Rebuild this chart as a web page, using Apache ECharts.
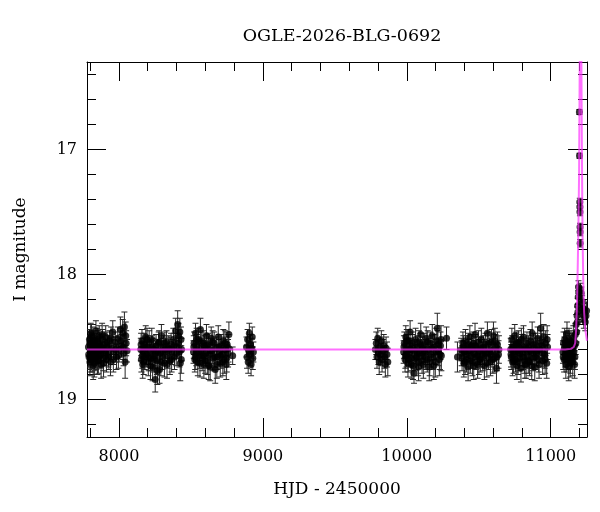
<!doctype html>
<html>
<head>
    <meta charset="utf-8">
    <title>OGLE-2026-BLG-0692</title>
    <script src="https://cdn.jsdelivr.net/npm/echarts@6/dist/echarts.min.js"></script>
    <style>
        html, body { margin: 0; padding: 0; background: #fff; }
        #main { width: 600px; height: 512px; }
    </style>
</head>
<body>
    <div id="main"></div>
<script type="text/javascript">
    // observations per season: [HJD-2450000, I mag, error]
    var season1 = [[7788,18.58,0.09],[7792,18.66,0.10],[7795,18.52,0.08],[7798,18.70,0.11],[7801,18.61,0.09],[7804,18.47,0.08],[7807,18.63,0.10],[7810,18.55,0.09],[7813,18.68,0.10],[7816,18.59,0.09],[7819,18.50,0.08],[7822,18.64,0.10],[7826,18.57,0.09],[7829,18.71,0.11],[7832,18.53,0.08],[7836,18.62,0.10],[7840,18.45,0.08],[7843,18.66,0.10],[7847,18.58,0.09],[7851,18.69,0.11],[7855,18.54,0.09],[7859,18.61,0.09],[7863,18.49,0.08],[7867,18.65,0.10],[7872,18.57,0.09],[7876,18.72,0.11],[7881,18.60,0.09],[7886,18.52,0.08],[7891,18.67,0.10],[7896,18.56,0.09],[7902,18.63,0.10],[7908,18.50,0.09],[7914,18.68,0.10],[7920,18.58,0.09],[7927,18.64,0.10],[7934,18.53,0.08],[7941,18.70,0.11],[7949,18.59,0.09],[7957,18.46,0.09],[7965,18.62,0.10],[7974,18.55,0.09],[7983,18.66,0.10],[7992,18.51,0.09],[8001,18.60,0.10],[8010,18.44,0.10],[8018,18.57,0.09],[8026,18.47,0.11],[8032,18.63,0.10],[8038,18.42,0.12],[8043,18.70,0.13],[8050,18.55,0.10],[8056,18.61,0.09],
                   [7790,18.64,0.10],[7797,18.55,0.09],[7803,18.68,0.10],[7809,18.49,0.09],[7815,18.62,0.10],[7821,18.73,0.11],[7828,18.56,0.09],[7834,18.67,0.10],[7841,18.60,0.09],[7849,18.52,0.09],[7857,18.69,0.10],[7865,18.58,0.09],[7874,18.64,0.10],[7883,18.48,0.09],[7893,18.71,0.11],[7905,18.61,0.09],[7917,18.55,0.09],[7930,18.66,0.10],[7945,18.51,0.09],[7961,18.68,0.10],[7978,18.60,0.10],[7996,18.65,0.10],[8014,18.53,0.10],[8029,18.58,0.10],[8047,18.49,0.11]];
    var season2 = [[8152,18.60,0.09],[8156,18.68,0.10],[8160,18.53,0.09],[8165,18.72,0.11],[8170,18.62,0.09],[8175,18.56,0.09],[8180,18.66,0.10],[8186,18.50,0.09],[8192,18.64,0.10],[8198,18.58,0.09],[8204,18.70,0.11],[8210,18.54,0.09],[8216,18.62,0.10],[8222,18.67,0.10],[8228,18.52,0.09],[8234,18.74,0.11],[8240,18.60,0.09],[8246,18.65,0.10],[8252,18.84,0.10],[8258,18.57,0.09],[8264,18.69,0.11],[8270,18.61,0.09],[8276,18.55,0.09],[8282,18.76,0.11],[8288,18.63,0.10],[8295,18.49,0.09],[8302,18.66,0.10],[8309,18.58,0.09],[8316,18.71,0.11],[8323,18.60,0.09],[8330,18.54,0.09],[8338,18.65,0.10],[8346,18.59,0.10],[8354,18.69,0.11],[8362,18.56,0.09],[8370,18.62,0.10],[8378,18.52,0.09],[8386,18.66,0.10],[8394,18.45,0.10],[8401,18.58,0.09],[8408,18.40,0.11],[8414,18.49,0.10],[8420,18.62,0.12],[8426,18.71,0.14],[8431,18.52,0.10],[8435,18.60,0.09],
                   [8154,18.56,0.09],[8162,18.65,0.10],[8172,18.70,0.10],[8183,18.59,0.09],[8195,18.52,0.09],[8207,18.67,0.10],[8219,18.73,0.11],[8231,18.58,0.09],[8243,18.68,0.10],[8255,18.63,0.10],[8267,18.77,0.11],[8279,18.54,0.09],[8291,18.70,0.11],[8305,18.61,0.10],[8319,18.55,0.09],[8334,18.72,0.11],[8350,18.60,0.10],[8366,18.68,0.10],[8382,18.57,0.10],[8398,18.63,0.10],[8411,18.55,0.11],[8423,18.46,0.11],[8433,18.68,0.11]];
    var season3 = [[8518,18.62,0.09],[8522,18.55,0.09],[8527,18.68,0.10],[8532,18.47,0.08],[8537,18.63,0.10],[8542,18.57,0.09],[8548,18.70,0.11],[8554,18.52,0.09],[8560,18.65,0.10],[8566,18.44,0.09],[8572,18.60,0.09],[8578,18.67,0.10],[8584,18.54,0.09],[8590,18.72,0.11],[8596,18.58,0.09],[8602,18.63,0.10],[8608,18.49,0.09],[8614,18.69,0.11],[8620,18.56,0.09],[8627,18.64,0.10],[8634,18.74,0.11],[8641,18.51,0.09],[8648,18.61,0.10],[8655,18.67,0.10],[8662,18.55,0.09],[8669,18.76,0.11],[8676,18.59,0.09],[8683,18.66,0.10],[8690,18.50,0.09],[8697,18.62,0.10],[8704,18.71,0.11],[8711,18.57,0.09],[8718,18.64,0.10],[8725,18.53,0.09],[8732,18.68,0.11],[8739,18.60,0.10],[8746,18.72,0.12],[8752,18.56,0.10],[8758,18.63,0.11],[8764,18.48,0.10],[8790,18.65,0.07],
                   [8520,18.58,0.09],[8530,18.66,0.10],[8540,18.52,0.09],[8551,18.62,0.10],[8563,18.71,0.11],[8575,18.55,0.09],[8587,18.65,0.10],[8599,18.69,0.10],[8611,18.57,0.09],[8624,18.73,0.11],[8637,18.61,0.10],[8651,18.54,0.09],[8665,18.66,0.10],[8680,18.72,0.11],[8694,18.58,0.10],[8708,18.65,0.10],[8722,18.70,0.11],[8736,18.55,0.10],[8749,18.67,0.11],[8761,18.59,0.11]];
    var season4 = [[8886,18.58,0.08],[8890,18.66,0.09],[8894,18.52,0.08],[8898,18.70,0.09],[8902,18.61,0.08],[8906,18.47,0.08],[8910,18.64,0.09],[8914,18.56,0.08],[8918,18.72,0.09],[8922,18.59,0.08],[8926,18.50,0.08],[8930,18.67,0.09],[8934,18.62,0.08]];
    var season5 = [[9782,18.60,0.08],[9788,18.55,0.09],[9793,18.66,0.09],[9798,18.51,0.08],[9803,18.63,0.09],[9808,18.70,0.10],[9813,18.58,0.08],[9818,18.64,0.09],[9823,18.53,0.08],[9828,18.68,0.10],[9834,18.61,0.09],[9840,18.57,0.09],[9846,18.66,0.09],[9851,18.72,0.10],[9856,18.59,0.09],[9862,18.64,0.10],[9868,18.70,0.11]];
    var season6 = [[9978,18.62,0.09],[9983,18.55,0.09],[9988,18.68,0.10],[9993,18.50,0.09],[9998,18.64,0.10],[10003,18.57,0.09],[10008,18.71,0.11],[10013,18.53,0.09],[10018,18.63,0.10],[10023,18.46,0.09],[10028,18.60,0.09],[10033,18.67,0.10],[10038,18.55,0.09],[10043,18.73,0.11],[10050,18.79,0.08],[10055,18.61,0.09],[10061,18.52,0.09],[10067,18.66,0.10],[10073,18.58,0.09],[10079,18.70,0.11],[10085,18.54,0.09],[10091,18.63,0.10],[10097,18.48,0.09],[10103,18.65,0.10],[10109,18.59,0.09],[10115,18.72,0.11],[10121,18.56,0.09],[10128,18.62,0.10],[10135,18.51,0.09],[10142,18.68,0.10],[10149,18.60,0.09],[10156,18.74,0.11],[10163,18.55,0.09],[10170,18.64,0.10],[10177,18.49,0.09],[10184,18.66,0.10],[10191,18.58,0.10],[10198,18.70,0.12],[10205,18.53,0.10],[10212,18.43,0.12],[10219,18.62,0.11],[10226,18.68,0.13],[10234,18.57,0.11],[10240,18.65,0.12],[10276,18.51,0.09],
                   [9980,18.58,0.09],[9990,18.65,0.10],[10000,18.53,0.09],[10010,18.68,0.10],[10020,18.60,0.09],[10031,18.72,0.11],[10041,18.57,0.09],[10058,18.67,0.10],[10070,18.62,0.09],[10082,18.74,0.11],[10094,18.56,0.09],[10106,18.69,0.10],[10118,18.61,0.09],[10131,18.66,0.10],[10145,18.54,0.09],[10159,18.70,0.11],[10174,18.59,0.10],[10188,18.73,0.11],[10202,18.62,0.10],[10216,18.56,0.11],[10230,18.64,0.12],[10238,18.52,0.11]];
    var season7 = [[10352,18.66,0.12],[10378,18.60,0.09],[10384,18.67,0.10],[10390,18.55,0.09],[10396,18.71,0.11],[10402,18.62,0.09],[10408,18.53,0.09],[10414,18.68,0.10],[10420,18.58,0.09],[10426,18.74,0.11],[10432,18.61,0.09],[10438,18.50,0.09],[10444,18.65,0.10],[10450,18.57,0.09],[10456,18.70,0.11],[10462,18.55,0.09],[10468,18.63,0.10],[10474,18.48,0.09],[10480,18.66,0.10],[10486,18.59,0.09],[10492,18.72,0.11],[10498,18.54,0.09],[10504,18.62,0.10],[10511,18.68,0.10],[10518,18.52,0.09],[10525,18.64,0.10],[10532,18.58,0.09],[10539,18.73,0.11],[10546,18.56,0.09],[10553,18.63,0.10],[10560,18.47,0.09],[10567,18.66,0.10],[10574,18.60,0.09],[10581,18.70,0.11],[10588,18.54,0.10],[10595,18.62,0.10],[10602,18.49,0.11],[10609,18.67,0.11],[10616,18.58,0.10],[10623,18.75,0.12],[10630,18.56,0.10],[10637,18.64,0.11],
                   [10381,18.63,0.10],[10393,18.58,0.09],[10405,18.70,0.10],[10417,18.64,0.10],[10429,18.56,0.09],[10441,18.69,0.10],[10453,18.60,0.09],[10465,18.73,0.11],[10477,18.57,0.09],[10489,18.65,0.10],[10501,18.70,0.10],[10514,18.59,0.09],[10528,18.67,0.10],[10542,18.62,0.10],[10556,18.71,0.11],[10570,18.55,0.09],[10584,18.64,0.10],[10598,18.68,0.11],[10612,18.53,0.10],[10626,18.66,0.11],[10640,18.60,0.11]];
    var season8 = [[10722,18.60,0.09],[10726,18.66,0.10],[10730,18.52,0.09],[10735,18.70,0.11],[10740,18.58,0.09],[10745,18.64,0.10],[10750,18.49,0.09],[10755,18.68,0.10],[10760,18.56,0.09],[10765,18.73,0.11],[10770,18.61,0.09],[10775,18.54,0.09],[10781,18.67,0.10],[10787,18.59,0.09],[10793,18.75,0.11],[10799,18.57,0.09],[10805,18.63,0.10],[10811,18.50,0.09],[10817,18.69,0.10],[10823,18.60,0.09],[10829,18.72,0.11],[10835,18.55,0.09],[10841,18.65,0.10],[10847,18.58,0.09],[10853,18.70,0.11],[10859,18.53,0.09],[10865,18.62,0.10],[10871,18.47,0.09],[10877,18.67,0.10],[10883,18.59,0.09],[10889,18.74,0.11],[10895,18.56,0.09],[10902,18.63,0.10],[10909,18.51,0.09],[10916,18.68,0.10],[10923,18.60,0.10],[10930,18.43,0.12],[10937,18.57,0.10],[10944,18.69,0.11],[10951,18.50,0.10],[10958,18.64,0.11],[10965,18.55,0.10],[10972,18.71,0.12],[10978,18.58,0.10],
                   [10724,18.64,0.10],[10732,18.58,0.09],[10742,18.69,0.10],[10752,18.62,0.10],[10762,18.55,0.09],[10773,18.70,0.10],[10784,18.63,0.10],[10796,18.52,0.09],[10808,18.66,0.10],[10820,18.72,0.11],[10832,18.59,0.09],[10844,18.69,0.10],[10856,18.61,0.10],[10868,18.73,0.11],[10880,18.56,0.09],[10892,18.66,0.10],[10905,18.61,0.10],[10919,18.72,0.11],[10933,18.55,0.10],[10947,18.63,0.11],[10961,18.68,0.11],[10975,18.52,0.11]];
    var season9 = [[11085,18.62,0.09],[11089,18.55,0.09],[11093,18.68,0.10],[11097,18.52,0.09],[11101,18.64,0.10],[11105,18.72,0.11],[11109,18.58,0.09],[11113,18.47,0.09],[11117,18.66,0.10],[11121,18.60,0.09],[11125,18.74,0.11],[11129,18.56,0.09],[11133,18.63,0.10],[11137,18.69,0.10],[11141,18.54,0.09],[11145,18.65,0.10],[11149,18.58,0.09],[11153,18.70,0.11],[11157,18.50,0.09],[11161,18.62,0.10],[11165,18.57,0.10],[11168,18.66,0.10],[11171,18.48,0.09],[11174,18.55,0.09],[11177,18.40,0.08],[11180,18.46,0.08],[11183,18.33,0.07],[11185,18.38,0.07],[11187,18.25,0.06],[11189,18.30,0.06],[11191,18.18,0.05],[11193,18.10,0.05],[11195,18.14,0.05],
                   [11087,18.66,0.10],[11095,18.59,0.09],[11103,18.55,0.09],[11111,18.68,0.10],[11119,18.62,0.10],[11127,18.52,0.09],[11135,18.71,0.11],[11143,18.60,0.09],[11151,18.66,0.10],[11159,18.56,0.09],[11166,18.72,0.11],
                   [11199,16.70,0.02],[11200,17.05,0.02],[11202,17.42,0.03],[11202.5,17.46,0.03],[11203,17.50,0.03],[11203.5,17.62,0.03],[11204,17.66,0.03],[11204.5,17.75,0.03],
                   [11207,18.12,0.05],[11209,18.20,0.05],[11212,18.15,0.05],[11215,18.28,0.06],[11218,18.23,0.06],[11222,18.32,0.06],[11226,18.27,0.06],[11230,18.36,0.07],[11235,18.30,0.07],[11240,18.38,0.07],[11245,18.33,0.07],[11249,18.29,0.07]];

    // model light curve: [HJD-2450000, I mag]
    var modelT = [7778, 11100, 11140, 11160, 11170, 11176, 11181, 11185, 11189, 11193, 11197, 11200, 11202, 11207, 11212, 11213, 11216, 11219, 11222, 11226, 11232, 11240, 11252];
    var modelMag = [18.60, 18.60, 18.595, 18.58, 18.55, 18.45, 18.30, 18.10, 17.85, 17.55, 17.20, 16.60, 16.20, 15.60, 16.10, 16.30, 16.90, 17.40, 17.75, 18.05, 18.30, 18.44, 18.53];

    // axis ticks
    var xMajor = [8000, 9000, 10000, 11000];
    var xMinor = [7800, 8200, 8400, 8600, 8800, 9200, 9400, 9600, 9800, 10200, 10400, 10600, 10800, 11200];
    var yMajor = [17, 18, 19];
    var yMinor = [16.4, 16.6, 16.8, 17.2, 17.4, 17.6, 17.8, 18.2, 18.4, 18.6, 18.8, 19.2];

    var obs = season1.concat(season2, season3, season4, season5, season6, season7, season8, season9);
    var model = modelT.map(function (t, i) { return [t, modelMag[i]]; });

    var font = 'DejaVu Serif';
    var xRange = { min: 7778, max: 11252 };
    var yRange = { min: 16.3, max: 19.3 };

    function xAx(pos, ticks, len, labels, line) {
        return {
            type: 'value', position: pos, min: xRange.min, max: xRange.max,
            axisLine: { show: line, onZero: false, lineStyle: { color: '#000', width: 1 } },
            axisTick: { show: true, inside: true, length: len, customValues: ticks, lineStyle: { color: '#000', width: 1 } },
            axisLabel: labels ? { show: true, customValues: ticks, margin: 12, color: '#000', fontFamily: font, fontSize: 16,
                                  formatter: function (v) { return String(v); } } : { show: false },
            splitLine: { show: false }
        };
    }
    function yAx(pos, ticks, len, labels, line) {
        return {
            type: 'value', position: pos, inverse: true, min: yRange.min, max: yRange.max,
            axisLine: { show: line, onZero: false, lineStyle: { color: '#000', width: 1 } },
            axisTick: { show: true, inside: true, length: len, customValues: ticks, lineStyle: { color: '#000', width: 1 } },
            axisLabel: labels ? { show: true, customValues: ticks, margin: 10, color: '#000', fontFamily: font, fontSize: 16 } : { show: false },
            splitLine: { show: false }
        };
    }

    var xAxes = [xAx('bottom', xMajor, 19, true, true), xAx('bottom', xMinor, 9, false, false),
                 xAx('top', xMajor, 19, false, true), xAx('top', xMinor, 9, false, false)];
    xAxes[0].name = 'HJD - 2450000';
    xAxes[0].nameLocation = 'middle';
    xAxes[0].nameGap = 44;
    xAxes[0].nameTextStyle = { color: '#000', fontFamily: font, fontSize: 17 };

    var yAxes = [yAx('left', yMajor, 19, true, true), yAx('left', yMinor, 9, false, false),
                 yAx('right', yMajor, 19, false, true), yAx('right', yMinor, 9, false, false)];
    yAxes[0].name = 'I magnitude';
    yAxes[0].nameLocation = 'middle';
    yAxes[0].nameRotate = 90;
    yAxes[0].nameGap = 58;
    yAxes[0].nameTextStyle = { color: '#000', fontFamily: font, fontSize: 17 };

    var myChart = echarts.init(document.getElementById('main'), null, { renderer: 'canvas' });

    var option = {
        animation: false,
        backgroundColor: '#fff',
        title: {
            text: 'OGLE-2026-BLG-0692',
            left: 337, top: 22, textAlign: 'center',
            textStyle: { color: '#000', fontFamily: font, fontSize: 17.5, fontWeight: 'normal' }
        },
        grid: { left: 87, right: 13, top: 62, bottom: 75, containLabel: false },
        xAxis: xAxes,
        yAxis: yAxes,
        series: [
            {
                // error bars
                type: 'custom',
                xAxisIndex: 0, yAxisIndex: 0,
                clip: true,
                data: obs,
                renderItem: function (params, api) {
                    var t = api.value(0), m = api.value(1), e = api.value(2);
                    var hi = api.coord([t, m - e]);
                    var lo = api.coord([t, m + e]);
                    var st = { stroke: '#262626', lineWidth: 1 };
                    return {
                        type: 'group',
                        children: [
                            { type: 'line', shape: { x1: hi[0], y1: hi[1], x2: lo[0], y2: lo[1] }, style: st },
                            { type: 'line', shape: { x1: hi[0] - 3, y1: hi[1], x2: hi[0] + 3, y2: hi[1] }, style: st },
                            { type: 'line', shape: { x1: lo[0] - 3, y1: lo[1], x2: lo[0] + 3, y2: lo[1] }, style: st }
                        ]
                    };
                },
                z: 2
            },
            {
                type: 'scatter',
                xAxisIndex: 0, yAxisIndex: 0,
                data: obs.map(function (d) { return [d[0], d[1]]; }),
                symbol: 'circle',
                symbolSize: 7,
                itemStyle: { color: '#000' },
                z: 3
            },
            {
                type: 'line',
                xAxisIndex: 0, yAxisIndex: 0,
                data: model,
                showSymbol: false,
                clip: true,
                lineStyle: { color: '#ff33ff', width: 2, opacity: 0.7 },
                z: 4
            }
        ]
    };

    myChart.setOption(option);    //载入图表
</script>
</body>
</html>
